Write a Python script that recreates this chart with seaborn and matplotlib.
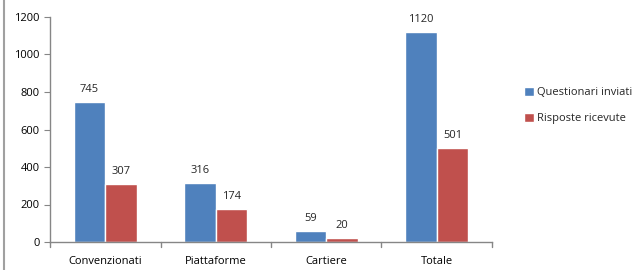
import pandas as pd
import seaborn as sns
import matplotlib.pyplot as plt
from matplotlib.lines import Line2D

categorie = ['Convenzionati', 'Piattaforme', 'Cartiere', 'Totale']
inviati = [745, 316, 59, 1120]
ricevute = [307, 174, 20, 501]
serie = ['Questionari inviati', 'Risposte ricevute']

df = pd.DataFrame({
    'categoria': categorie * 2,
    'valore': inviati + ricevute,
    'serie': [serie[0]] * 4 + [serie[1]] * 4,
})

sns.set_style("white")
plt.rcParams['font.family'] = ['Open Sans', 'DejaVu Sans']

fig = plt.figure(figsize=(6.38, 2.70), dpi=100)
ax = fig.add_axes([50 / 638, 28 / 270, 442 / 638, 225 / 270])

sns.barplot(data=df, x='categoria', y='valore', hue='serie',
            palette=['#4F81BD', '#C0504D'], width=0.57, saturation=1,
            ax=ax)

for cont in ax.containers:
    ax.bar_label(cont, padding=5, fontsize=8)

ax.set_ylim(0, 1200)
ax.set_yticks(range(0, 1201, 200))
ax.set_xlim(-0.5, 3.5)
ax.set_xlabel('')
ax.set_ylabel('')
ax.tick_params(axis='both', labelsize=8, colors='#000000')
ax.tick_params(axis='y', length=4, color='#868686', direction='out', left=True)
ax.tick_params(axis='x', length=0, pad=10)
for x in [-0.5, 0.5, 1.5, 2.5, 3.5]:
    ax.plot([x, x], [0, -25], color='#868686', lw=1, clip_on=False)

for s in ['top', 'right']:
    ax.spines[s].set_visible(False)
for s in ['left', 'bottom']:
    ax.spines[s].set_color('#868686')
    ax.spines[s].set_linewidth(1)

leg = ax.legend(loc='center left', bbox_to_anchor=(514 / 638, 0.61),
                bbox_transform=fig.transFigure, frameon=False, fontsize=8,
                handlelength=0.9, handleheight=0.9, handletextpad=0.3,
                labelspacing=1.3)

fig.add_artist(Line2D([4 / 638, 4 / 638], [0, 1], color='#A0A0A0', lw=1.5,
                      transform=fig.transFigure))

fig.savefig('out.png', dpi=100)
